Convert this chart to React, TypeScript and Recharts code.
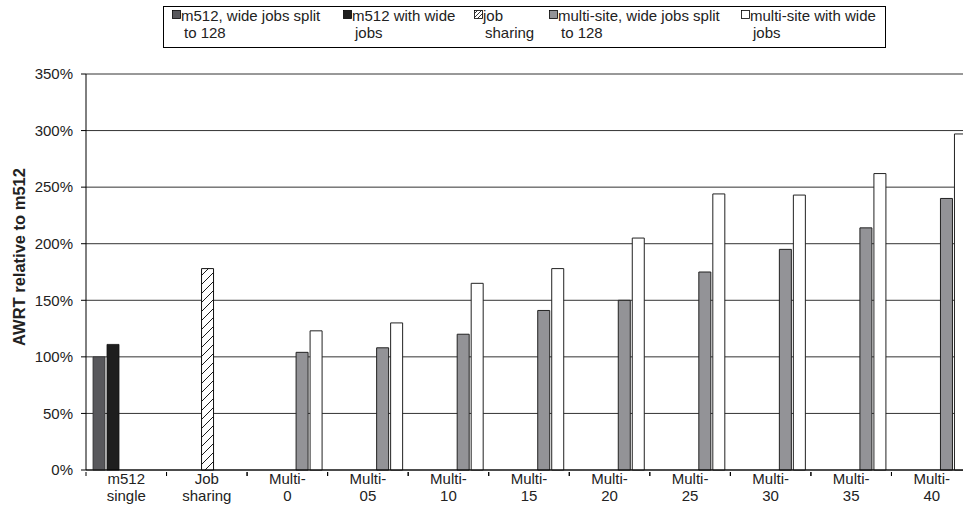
import React from 'react';
import { BarChart, Bar, XAxis, YAxis, CartesianGrid } from 'recharts';

const categories = ['m512 single', 'Job sharing', 'Multi-0', 'Multi-05', 'Multi-10', 'Multi-15', 'Multi-20', 'Multi-25', 'Multi-30', 'Multi-35', 'Multi-40'];
const tickLines: Record<string, [string, string]> = {
  'm512 single': ['m512', 'single'],
  'Job sharing': ['Job', 'sharing'],
  'Multi-0': ['Multi-', '0'],
  'Multi-05': ['Multi-', '05'],
  'Multi-10': ['Multi-', '10'],
  'Multi-15': ['Multi-', '15'],
  'Multi-20': ['Multi-', '20'],
  'Multi-25': ['Multi-', '25'],
  'Multi-30': ['Multi-', '30'],
  'Multi-35': ['Multi-', '35'],
  'Multi-40': ['Multi-', '40'],
};

const m512Split = [100, null, null, null, null, null, null, null, null, null, null];
const m512Wide = [111, null, null, null, null, null, null, null, null, null, null];
const jobSharing = [null, 178, null, null, null, null, null, null, null, null, null];
const multiSplit = [null, null, 104, 108, 120, 141, 150, 175, 195, 214, 240];
const multiWide = [null, null, 123, 130, 165, 178, 205, 244, 243, 262, 297];

const yTicks = [0, 50, 100, 150, 200, 250, 300, 350];

const data = categories.map((name, i) => ({
  name,
  m512Split: m512Split[i],
  m512Wide: m512Wide[i],
  jobSharing: jobSharing[i],
  multiSplit: multiSplit[i],
  multiWide: multiWide[i],
}));

const FONT = '"Liberation Sans", Arial, sans-serif';
const CHART_W = 990;
const PLOT_LEFT = 86;
const PLOT_RIGHT_MARGIN = 18;
const BAND = (CHART_W - PLOT_LEFT - PLOT_RIGHT_MARGIN) / categories.length;

const XTick = ({ x, y, payload }: any) => {
  const lines = tickLines[payload.value] || [payload.value, ''];
  return (
    <g>
      <line x1={x - BAND / 2} x2={x - BAND / 2} y1={y} y2={y + 4} stroke="#000" />
      <line x1={x + BAND / 2} x2={x + BAND / 2} y1={y} y2={y + 4} stroke="#000" />
      <text x={x} y={y + 12} textAnchor="middle" fontSize={15} fontFamily={FONT} fill="#222">{lines[0]}</text>
      <text x={x} y={y + 29} textAnchor="middle" fontSize={15} fontFamily={FONT} fill="#222">{lines[1]}</text>
    </g>
  );
};

const legendItems = [
  { fill: '#58585c', l1: 'm512, wide jobs split', l2: 'to 128', sx: 172, tx: 181, t2x: 184 },
  { fill: '#1e1e1e', l1: 'm512 with wide', l2: 'jobs', sx: 343, tx: 352, t2x: 355 },
  { fill: 'hatch', l1: 'job', l2: 'sharing', sx: 474, tx: 483, t2x: 485 },
  { fill: '#939397', l1: 'multi-site, wide jobs split', l2: 'to 128', sx: 549, tx: 558, t2x: 561 },
  { fill: '#ffffff', l1: 'multi-site with wide', l2: 'jobs', sx: 741, tx: 750, t2x: 753 },
];

const LegendBox = () => (
  <svg width={963} height={60} style={{ position: 'absolute', left: 0, top: 0 }}>
    <defs>
      <pattern id="hatchL" patternUnits="userSpaceOnUse" width={4} height={4}>
        <rect width={4} height={4} fill="#fff" />
        <path d="M0,4 L4,0" stroke="#000" strokeWidth={0.8} />
      </pattern>
    </defs>
    <rect x={163.5} y={6.5} width={722} height={41} fill="#fff" stroke="#000" />
    {legendItems.map((it, i) => (
      <g key={i}>
        <rect x={it.sx + 0.5} y={10.5} width={8} height={8} fill={it.fill === 'hatch' ? 'url(#hatchL)' : it.fill} stroke="#000" strokeWidth={0.8} />
        <text x={it.tx} y={21} fontSize={15} fontFamily={FONT} fill="#222">{it.l1}</text>
        <text x={it.t2x} y={38} fontSize={15} fontFamily={FONT} fill="#222">{it.l2}</text>
      </g>
    ))}
  </svg>
);

const YLabel = () => (
  <text x={25} y={257} transform="rotate(-90 25 257)" textAnchor="middle" fontSize={16.5} fontWeight="bold" fontFamily={FONT} fill="#222">
    AWRT relative to m512
  </text>
);

export default function App() {
  return (
    <div style={{ position: 'absolute', left: 0, top: 0, width: 963, height: 508, overflow: 'hidden', background: '#fff' }}>
      <BarChart
        width={CHART_W}
        height={508}
        data={data}
        margin={{ top: 74, right: PLOT_RIGHT_MARGIN, left: 0, bottom: 0 }}
        barCategoryGap={7}
        barGap={2}
      >
        <defs>
          <pattern id="hatch" patternUnits="userSpaceOnUse" width={9} height={9}>
            <rect width={9} height={9} fill="#fff" />
            <path d="M0,9 L9,0 M-2,2 L2,-2 M7,11 L11,7" stroke="#000" strokeWidth={0.9} />
          </pattern>
        </defs>
        <CartesianGrid vertical={false} stroke="#333" strokeWidth={1} />
        <XAxis
          dataKey="name"
          interval={0}
          height={38}
          tickLine={false}
          tickSize={0}
          axisLine={{ stroke: '#000' }}
          tick={<XTick />}
        />
        <YAxis
          width={PLOT_LEFT}
          domain={[0, 350]}
          ticks={yTicks}
          interval={0}
          tickSize={5}
          tickMargin={8}
          tickFormatter={(v) => `${v}%`}
          axisLine={{ stroke: '#000' }}
          tickLine={{ stroke: '#000' }}
          tick={{ fontSize: 15, fontFamily: FONT, fill: '#222' }}
          label={<YLabel />}
        />
        <Bar dataKey="m512Split" fill="#58585c" stroke="#333" strokeWidth={0.8} isAnimationActive={false} />
        <Bar dataKey="m512Wide" fill="#1e1e1e" stroke="#111" strokeWidth={0.8} isAnimationActive={false} />
        <Bar dataKey="jobSharing" fill="url(#hatch)" stroke="#111" strokeWidth={1} isAnimationActive={false} />
        <Bar dataKey="multiSplit" fill="#939397" stroke="#222" strokeWidth={1} isAnimationActive={false} />
        <Bar dataKey="multiWide" fill="#ffffff" stroke="#222" strokeWidth={1} isAnimationActive={false} />
      </BarChart>
      <LegendBox />
    </div>
  );
}
